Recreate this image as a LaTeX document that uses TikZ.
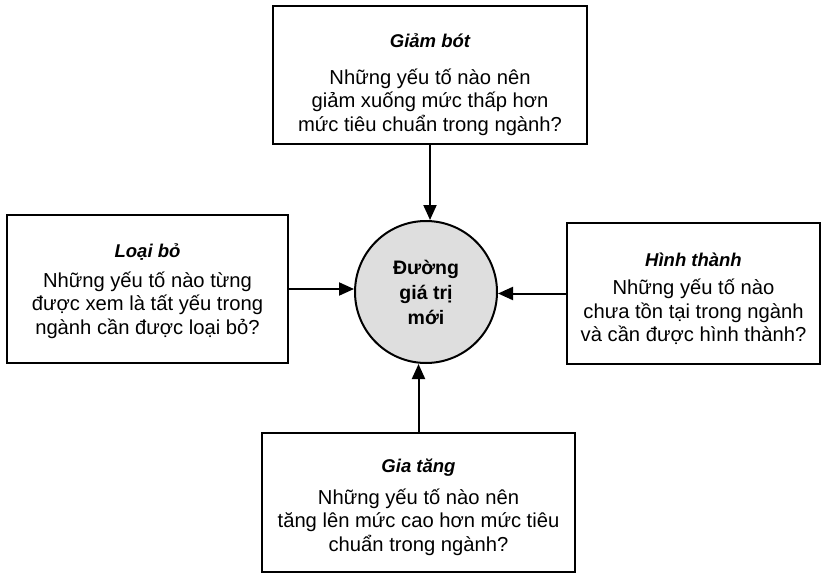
\documentclass[tikz,border=0pt]{standalone}
\usepackage{fontspec}
\setmainfont{Liberation Sans}
\usetikzlibrary{arrows.meta}
\tikzset{
  box/.style={draw=black, line width=2pt, rectangle, inner sep=0pt},
  ttl/.style={font=\fontsize{18.5}{23}\selectfont\bfseries\itshape, inner sep=0pt, anchor=base},
  body/.style={font=\fontsize{20.2}{23.5}\selectfont, align=center, inner sep=0pt},
  hub/.style={draw=black, line width=2pt, circle, fill=black!13, inner sep=0pt,
              font=\fontsize{19.5}{25}\selectfont\bfseries, align=center},
  conn/.style={line width=2pt, -{Triangle[length=15pt,width=13pt]}}
}
\begin{document}
\begin{tikzpicture}[x=1pt,y=-1pt]
\useasboundingbox (0,0) rectangle (825,575);
% hub
\node[hub, minimum size=142pt] (dv) at (426,292) {Đường\\giá trị\\mới};
% top box
\node[box, minimum width=314pt, minimum height=138pt] (gb) at (430,75) {};
\node[ttl] (gbt) at (430,48) {Giảm bót};
\node[body] (gbb) at (430,102) {Những yếu tố nào nên\\giảm xuống mức thấp hơn\\mức tiêu chuẩn trong ngành?};
% left box
\node[box, minimum width=281pt, minimum height=148pt] (lb) at (147.5,289) {};
\node[ttl] (lbt) at (147.5,257) {Loại bỏ};
\node[body] (lbb) at (147.5,305) {Những yếu tố nào từng\\được xem là tất yếu trong\\ngành cần được loại bỏ?};
% right box
\node[box, minimum width=253pt, minimum height=141pt] (ht) at (693.5,293.5) {};
\node[ttl] (htt) at (693.5,266) {Hình thành};
\node[body] (htb) at (693.5,312) {Những yếu tố nào\\chưa tồn tại trong ngành\\và cần được hình thành?};
% bottom box
\node[box, minimum width=313pt, minimum height=139pt] (gt) at (418.5,502.5) {};
\node[ttl] (gtt) at (418.5,472) {Gia tăng};
\node[body] (gtb) at (418.5,522) {Những yếu tố nào nên\\tăng lên mức cao hơn mức tiêu\\chuẩn trong ngành?};
% connectors
\draw[conn] (gb.south) -- (gb.south |- dv.north);
\draw[conn] (gt.north) -- (gt.north |- dv.south);
\draw[conn] (lb.east) -- (lb.east -| dv.west);
\draw[conn] (ht.west) -- (ht.west -| dv.east);
\end{tikzpicture}
\end{document}
